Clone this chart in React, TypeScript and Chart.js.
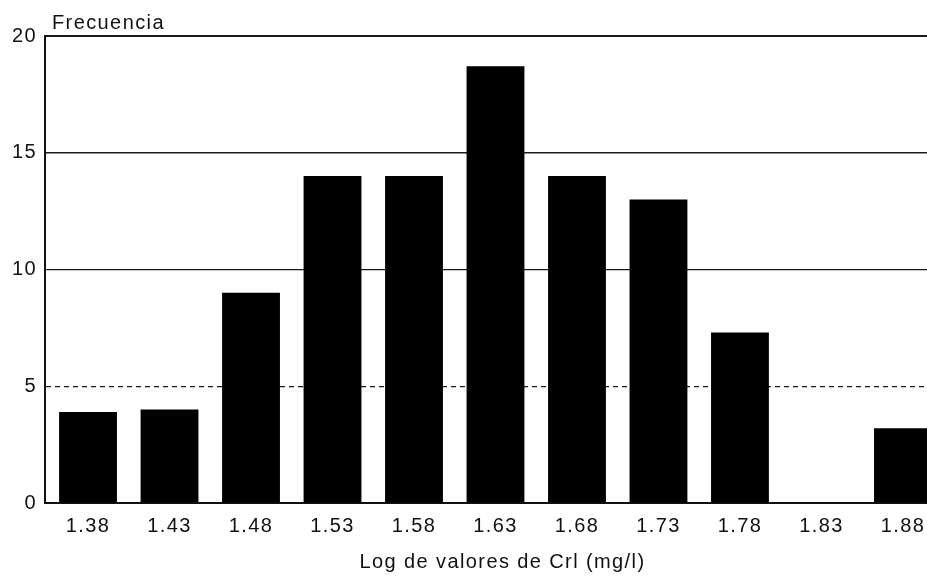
import React, { useEffect, useRef } from 'react';
import { Chart, registerables } from 'chart.js';

Chart.register(...registerables);

const categories = ['1.38', '1.43', '1.48', '1.53', '1.58', '1.63', '1.68', '1.73', '1.78', '1.83', '1.88'];
const frequencies = [3.9, 4, 9, 14, 14, 18.7, 14, 13, 7.3, 0, 3.2];
const yTickValues = [0, 5, 10, 15, 20];
const yAxisTitle = 'Frecuencia';
const xAxisTitle = 'Log de valores de Crl (mg/l)';

const FONT = "'Liberation Sans', Arial, Helvetica, sans-serif";
const FONT_SIZE = 20;
const SPACING = '1.4px';
const INK = '#111111';

export default function App() {
  const ref = useRef<HTMLCanvasElement>(null);

  useEffect(() => {
    const canvas = ref.current!;
    const spacingPlugin = {
      id: 'letterSpacing',
      beforeUpdate(chart: any) {
        chart.ctx.letterSpacing = SPACING;
      },
      beforeDraw(chart: any) {
        chart.ctx.letterSpacing = SPACING;
      },
    };
    const yTitlePlugin = {
      id: 'yTitleText',
      afterDraw(chart: any) {
        const { ctx, chartArea } = chart;
        ctx.save();
        ctx.font = `${FONT_SIZE}px ${FONT}`;
        ctx.fillStyle = INK;
        ctx.textAlign = 'left';
        ctx.textBaseline = 'alphabetic';
        ctx.fillText(yAxisTitle, chartArea.left + 7, chartArea.top - 7);
        ctx.restore();
      },
    };

    Chart.defaults.font.family = FONT;
    Chart.defaults.font.size = FONT_SIZE;
    Chart.defaults.color = INK;

    const chart = new Chart(canvas, {
      type: 'bar',
      data: {
        datasets: [
          {
            data: frequencies.map((v, i) => ({ x: i, y: v })),
            backgroundColor: '#000000',
            borderWidth: 0,
            barPercentage: 0.71,
            categoryPercentage: 1,
          },
        ],
      },
      options: {
        animation: false,
        responsive: false,
        events: [],
        layout: { padding: { top: 36, left: 0, right: 0, bottom: 0 } },
        plugins: {
          legend: { display: false },
          tooltip: { enabled: false },
          title: { display: false },
        },
        scales: {
          x: {
            type: 'linear',
            min: -0.528,
            max: 10.7,
            offset: false,
            afterBuildTicks: (axis: any) => {
              axis.ticks = categories.map((_, i) => ({ value: i }));
            },
            afterFit: (axis: any) => {
              axis.height = 73;
            },
            grid: { display: false, drawTicks: false },
            border: { display: true, color: INK, width: 2 },
            ticks: {
              callback: (v: any) => categories[Math.round(Number(v))] ?? '',
              padding: 11,
              color: INK,
              maxRotation: 0,
              autoSkip: false,
            },
            title: {
              display: true,
              text: xAxisTitle,
              color: INK,
              padding: { top: 2, bottom: 2 },
            },
          },
          y: {
            type: 'linear',
            min: 0,
            max: 20,
            afterBuildTicks: (axis: any) => {
              axis.ticks = yTickValues.map((v) => ({ value: v }));
            },
            afterFit: (axis: any) => {
              axis.width = 45;
            },
            grid: {
              drawTicks: false,
              color: (c: any) => (c.tick && c.tick.value === 0 ? 'rgba(0,0,0,0)' : '#1a1a1a'),
              lineWidth: (c: any) => {
                const v = c.tick ? c.tick.value : 0;
                if (v === 20) return 2;
                if (v === 15) return 1.5;
                return 1.2;
              },
            },
            border: {
              display: true,
              color: INK,
              width: 2,
              dash: (c: any) => (c.tick && c.tick.value === 5 ? [5, 4] : []),
            },
            ticks: {
              padding: 8,
              color: INK,
              callback: (v: any) => String(v),
            },
          },
        },
      },
      plugins: [spacingPlugin, yTitlePlugin],
    } as any);

    return () => chart.destroy();
  }, []);

  return (
    <div
      style={{
        position: 'fixed',
        left: 0,
        top: 0,
        width: 927,
        height: 576,
        overflow: 'hidden',
        background: '#ffffff',
      }}
    >
      <canvas ref={ref} width={960} height={576} style={{ display: 'block' }} />
    </div>
  );
}
